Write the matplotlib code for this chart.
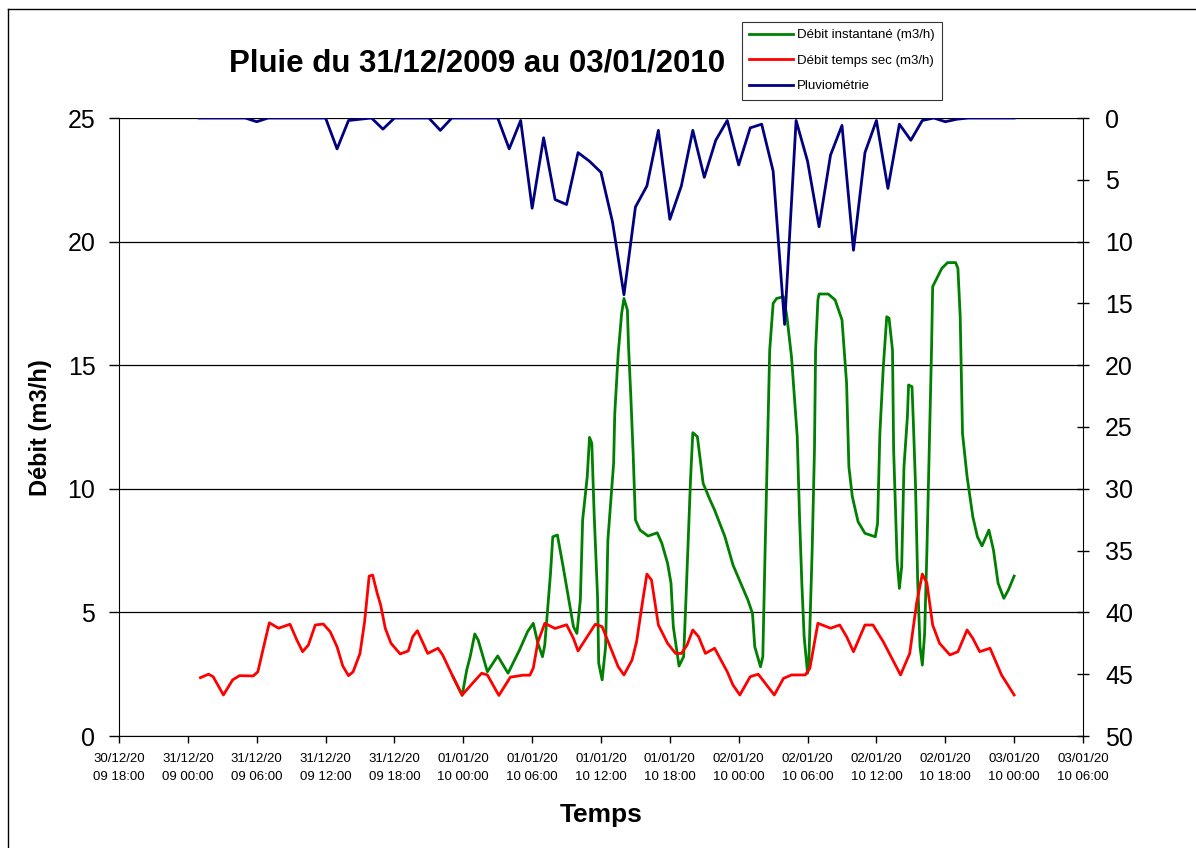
import matplotlib
matplotlib.use("Agg")
import matplotlib.pyplot as plt
from matplotlib.lines import Line2D
import pandas as pd

plt.rcParams['font.family'] = ['Liberation Sans', 'DejaVu Sans']

# -------------------- Data --------------------
# time axis: hours since 30/12/2009 18:00
t0 = pd.Timestamp("2009-12-30 18:00")

# Pluviométrie (mm), one value per hour, h = 7 .. 78
pluie_heures = list(range(7, 79))
pluie_mm = [0, 0, 0, 0, 0, 0.3, 0, 0, 0, 0, 0, 0, 2.5, 0.2, 0.1, 0, 0.9, 0,
            0, 0, 0, 1.0, 0, 0, 0, 0, 0, 2.5, 0.2, 7.3, 1.6, 6.6, 7.0, 2.8,
            3.5, 4.4, 8.4, 14.3, 7.2, 5.5, 1.0, 8.2, 5.5, 1.0, 4.8, 1.8, 0.2, 3.8,
            0.8, 0.5, 4.3, 16.7, 0.2, 3.5, 8.8, 3.0, 0.6, 10.7, 2.8, 0.2, 5.7, 0.5,
            1.8, 0.2, 0, 0.3, 0.1, 0, 0, 0, 0, 0]

# Débit temps sec (m3/h)
sec_heures = [7.1, 7.8, 8.2, 9.1, 9.9, 10.5, 11.7, 12.1, 12.6, 13.1, 13.9, 14.9,
              15.5, 16.0, 16.5, 17.1, 17.8, 18.4, 19.0, 19.5, 20.0, 20.4, 21.0,
              21.4, 21.8, 22.1, 22.5, 22.8, 23.2, 23.7, 24.5, 25.2, 25.6, 26.0,
              26.5, 26.9, 27.8, 28.2, 29.1, 29.9, 30.8, 31.6, 32.1, 33.1, 34.1,
              35.2, 35.8, 36.1, 36.5, 37.1, 38.0, 39.0, 39.6, 40.0, 40.8, 41.5,
              42.1, 42.8, 43.5, 44.0, 44.7, 45.1, 45.6, 46.0, 46.4, 47.0, 47.8,
              48.5, 49.0, 49.5, 50.0, 50.5, 51.1, 51.9, 53.0, 53.5, 54.1, 55.0,
              55.7, 57.1, 57.9, 58.6, 59.8, 60.2, 60.9, 62.0, 62.8, 63.4, 64.0,
              65.0, 65.7, 66.6, 68.1, 68.9, 69.5, 70.0, 70.4, 70.9, 71.5, 72.4,
              73.1, 73.9, 74.4, 75.0, 75.9, 76.9, 78.0]
sec_debit = [2.36, 2.5, 2.4, 1.66, 2.27, 2.44, 2.43, 2.6, 3.6, 4.58, 4.36, 4.52,
             3.88, 3.41, 3.68, 4.49, 4.53, 4.22, 3.61, 2.83, 2.44, 2.6, 3.34,
             4.62, 6.47, 6.51, 5.77, 5.3, 4.36, 3.75, 3.32, 3.44, 4.02, 4.26,
             3.75, 3.34, 3.55, 3.28, 2.4, 1.66, 2.13, 2.54, 2.47, 1.64, 2.38,
             2.46, 2.46, 2.75, 3.8, 4.56, 4.35, 4.5, 3.95, 3.44, 4.02, 4.52,
             4.42, 3.61, 2.8, 2.47, 3.07, 3.81, 5.37, 6.55, 6.31, 4.49, 3.75,
             3.34, 3.34, 3.68, 4.29, 4.02, 3.34, 3.55, 2.6, 2.06, 1.66, 2.4,
             2.5, 1.66, 2.33, 2.47, 2.47, 2.74, 4.56, 4.36, 4.49, 4.02, 3.41,
             4.49, 4.49, 3.81, 2.47, 3.34, 5.37, 6.55, 6.18, 4.49, 3.75, 3.28,
             3.41, 4.29, 3.95, 3.41, 3.55, 2.47, 1.66]

# Débit instantané (m3/h)
inst_heures = [29.1, 29.9, 30.3, 30.6, 31.0, 31.3, 32.1, 33.0, 33.9, 34.9, 35.6,
               36.1, 36.5, 36.9, 37.1, 37.6, 37.8, 38.2, 38.7, 39.0, 39.6, 39.9,
               40.2, 40.4, 40.8, 41.0, 41.2, 41.4, 41.7, 41.8, 42.1, 42.4, 42.6,
               43.1, 43.2, 43.5, 43.8, 44.0, 44.3, 44.4, 44.6, 44.8, 45.0, 45.4,
               46.1, 46.9, 47.3, 47.8, 48.1, 48.3, 48.6, 48.8, 49.2, 49.4, 49.6,
               49.8, 50.0, 50.4, 50.9, 51.5, 51.9, 52.8, 53.5, 54.3, 54.8, 55.2,
               55.4, 55.9, 56.1, 56.3, 56.5, 56.7, 57.0, 57.3, 57.9, 58.2, 58.6,
               59.1, 59.3, 59.5, 59.7, 60.0, 60.1, 60.4, 60.6, 60.7, 60.9, 61.0,
               61.8, 62.4, 63.0, 63.4, 63.6, 63.9, 64.4, 65.0, 65.9, 66.1, 66.3,
               66.6, 66.9, 67.1, 67.4, 67.5, 67.8, 68.0, 68.2, 68.4, 68.7, 68.8,
               69.1, 69.2, 69.4, 69.6, 69.8, 70.0, 70.2, 70.4, 70.6, 70.8, 70.9,
               71.7, 72.2, 72.9, 73.1, 73.3, 73.5, 73.9, 74.4, 74.8, 75.2, 75.8,
               76.2, 76.6, 77.1, 77.5, 78.0]
inst_debit = [2.4, 1.64, 2.67, 3.21, 4.13, 3.88, 2.6, 3.24, 2.54, 3.48, 4.22,
              4.56, 3.75, 3.21, 3.68, 6.58, 8.06, 8.13, 6.85, 6.04, 4.42, 4.15,
              5.5, 8.74, 10.49, 12.08, 11.84, 9.01, 5.64, 2.94, 2.27, 3.61, 7.93,
              11.03, 13.05, 15.48, 17.1, 17.7, 17.23, 15.75, 13.73, 11.44, 8.74,
              8.33, 8.09, 8.22, 7.8, 6.99, 6.18, 4.42, 3.48, 2.83, 3.21, 5.5,
              7.93, 10.36, 12.27, 12.11, 10.22, 9.55, 9.14, 8.06, 6.92, 6.04,
              5.5, 4.96, 3.61, 2.8, 3.21, 7.52, 11.57, 15.61, 17.5, 17.7, 17.77,
              16.96, 15.34, 12.11, 8.87, 6.18, 4.02, 2.54, 2.8, 7.52, 11.57,
              15.61, 17.64, 17.88, 17.88, 17.64, 16.83, 14.27, 10.89, 9.68, 8.67,
              8.2, 8.06, 8.6, 12.24, 14.94, 16.96, 16.9, 15.61, 11.57, 7.12,
              5.97, 6.85, 10.89, 12.92, 14.2, 14.13, 12.92, 10.22, 6.18, 3.61,
              2.87, 4.15, 7.52, 11.57, 15.61, 18.18, 18.92, 19.15, 19.15, 18.92,
              16.96, 12.24, 10.49, 8.87, 8.06, 7.69, 8.33, 7.52, 6.18, 5.57,
              5.91, 6.47]


def to_time(hours):
    return t0 + pd.to_timedelta(hours, unit="h")


# -------------------- Figure --------------------
fig = plt.figure(figsize=(11.96, 8.48), dpi=100)
ax = fig.add_axes([119 / 1196, 1 - 736 / 848, 964 / 1196, 618 / 848])
ax2 = ax.twinx()

ax.plot(to_time(inst_heures), inst_debit, color="#008000", lw=2,
        label="Débit instantané (m3/h)")
ax.plot(to_time(sec_heures), sec_debit, color="#FF0000", lw=2,
        label="Débit temps sec (m3/h)")
ax2.plot(to_time(pluie_heures), pluie_mm, color="#000080", lw=2,
         label="Pluviométrie")

# left axis
ax.set_ylim(0, 25)
ax.set_yticks(range(0, 26, 5))
ax.yaxis.grid(True, color="black", lw=0.9)
ax.set_axisbelow(True)
ax.tick_params(axis="y", labelsize=18, length=7, width=1, pad=10)
for s in ["top", "right"]:
    ax.spines[s].set_visible(False)

# right axis (inverted)
ax2.set_ylim(50, 0)
ax2.set_yticks(range(0, 51, 5))
ax2.tick_params(axis="y", labelsize=18, length=8, width=1, direction="inout", pad=12)
ax2.spines["top"].set_visible(False)
ax2.spines["left"].set_visible(False)
ax2.spines["bottom"].set_visible(False)

# x axis
ticks = pd.date_range(t0, periods=15, freq="6h")
labels = []
for t in ticks:
    s = t.strftime("%d/%m/%Y %H:%M")
    labels.append(s[:8] + "\n" + s[8:])
ax.set_xlim(ticks[0], ticks[-1])
ax.set_xticks(ticks)
ax.set_xticklabels(labels, fontsize=9.5, linespacing=1.75)
ax.tick_params(axis="x", length=5, width=1, pad=7)

# texts
fig.text(477 / 1196, 1 - 63 / 848, "Pluie du 31/12/2009 au 03/01/2010",
         fontsize=22.5, fontweight="bold", ha="center", va="center")
fig.text(40 / 1196, 1 - 428 / 848, "Débit (m3/h)", fontsize=17,
         fontweight="bold", rotation=90, ha="center", va="center")
fig.text(601 / 1196, 1 - 815 / 848, "Temps", fontsize=19,
         fontweight="bold", ha="center", va="center")

# legend
handles = [Line2D([], [], color="#008000", lw=2),
           Line2D([], [], color="#FF0000", lw=2),
           Line2D([], [], color="#000080", lw=2)]
leg = fig.legend(handles, ["Débit instantané (m3/h)", "Débit temps sec (m3/h)", "Pluviométrie"],
                 loc="upper left", bbox_to_anchor=(742 / 1196, 1 - 22 / 848),
                 fontsize=9.5, frameon=True, fancybox=False, borderaxespad=0,
                 handlelength=3.3, handletextpad=0.3, labelspacing=1.0,
                 borderpad=0.55)
leg.get_frame().set_edgecolor("black")
leg.get_frame().set_linewidth(0.8)

# outer chart border
fig.add_artist(Line2D([8 / 1196, 8 / 1196], [0, 1 - 9 / 848], color="black", lw=1))
fig.add_artist(Line2D([8 / 1196, 1], [1 - 9 / 848, 1 - 9 / 848], color="black", lw=1))

fig.savefig("out.png", dpi=100)
